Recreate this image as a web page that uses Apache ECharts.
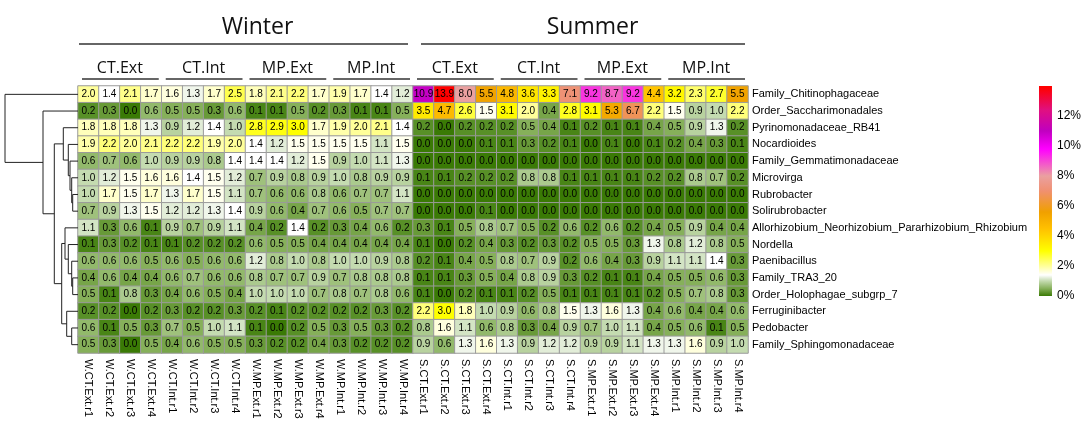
<!DOCTYPE html>
<html>
<head>
<meta charset="utf-8">
<script src="https://cdn.jsdelivr.net/npm/echarts@6/dist/echarts.min.js"></script>
<style>
  html, body { margin: 0; padding: 0; background: #fff; }
  #chart { width: 1084px; height: 427px; }
</style>
</head>
<body>
<div id="chart"></div>
<script>
// rows, top to bottom (dendrogram leaf order)
var taxa = ['Family_Chitinophagaceae', 'Order_Saccharimonadales', 'Pyrinomonadaceae_RB41', 'Nocardioides',
  'Family_Gemmatimonadaceae', 'Microvirga', 'Rubrobacter', 'Solirubrobacter',
  'Allorhizobium_Neorhizobium_Pararhizobium_Rhizobium', 'Nordella', 'Paenibacillus', 'Family_TRA3_20',
  'Order_Holophagae_subgrp_7', 'Ferruginibacter', 'Pedobacter', 'Family_Sphingomonadaceae'];

var samples = ['W.CT.Ext.r1', 'W.CT.Ext.r2', 'W.CT.Ext.r3', 'W.CT.Ext.r4',
  'W.CT.Int.r1', 'W.CT.Int.r2', 'W.CT.Int.r3', 'W.CT.Int.r4',
  'W.MP.Ext.r1', 'W.MP.Ext.r2', 'W.MP.Ext.r3', 'W.MP.Ext.r4',
  'W.MP.Int.r1', 'W.MP.Int.r2', 'W.MP.Int.r3', 'W.MP.Int.r4',
  'S.CT.Ext.r1', 'S.CT.Ext.r2', 'S.CT.Ext.r3', 'S.CT.Ext.r4',
  'S.CT.Int.r1', 'S.CT.Int.r2', 'S.CT.Int.r3', 'S.CT.Int.r4',
  'S.MP.Ext.r1', 'S.MP.Ext.r2', 'S.MP.Ext.r3', 'S.MP.Ext.r4',
  'S.MP.Int.r1', 'S.MP.Int.r2', 'S.MP.Int.r3', 'S.MP.Int.r4'];

var seasons = ['Winter', 'Summer'];
var groups = ['CT.Ext', 'CT.Int', 'MP.Ext', 'MP.Int', 'CT.Ext', 'CT.Int', 'MP.Ext', 'MP.Int'];

// relative abundance (%), one row per taxon, one value per sample
var abundance = [
  [2.0, 1.4, 2.1, 1.7, 1.6, 1.3, 1.7, 2.5, 1.8, 2.1, 2.2, 1.7, 1.9, 1.7, 1.4, 1.2, 10.9, 13.9, 8.0, 5.5, 4.8, 3.6, 3.3, 7.1, 9.2, 8.7, 9.2, 4.4, 3.2, 2.3, 2.7, 5.5],
  [0.2, 0.3, 0.0, 0.6, 0.5, 0.5, 0.3, 0.6, 0.1, 0.1, 0.5, 0.2, 0.3, 0.1, 0.1, 0.5, 3.5, 4.7, 2.6, 1.5, 3.1, 2.0, 0.4, 2.8, 3.1, 5.3, 6.7, 2.2, 1.5, 0.9, 1.0, 2.2],
  [1.8, 1.8, 1.8, 1.3, 0.9, 1.2, 1.4, 1.0, 2.8, 2.9, 3.0, 1.7, 1.9, 2.0, 2.1, 1.4, 0.2, 0.0, 0.2, 0.2, 0.2, 0.5, 0.4, 0.1, 0.2, 0.1, 0.1, 0.4, 0.5, 0.9, 1.3, 0.2],
  [1.9, 2.2, 2.0, 2.1, 2.2, 2.2, 1.9, 2.0, 1.4, 1.2, 1.5, 1.5, 1.5, 1.5, 1.1, 1.5, 0.0, 0.0, 0.0, 0.1, 0.1, 0.3, 0.2, 0.1, 0.0, 0.1, 0.0, 0.1, 0.2, 0.4, 0.3, 0.1],
  [0.6, 0.7, 0.6, 1.0, 0.9, 0.9, 0.8, 1.4, 1.4, 1.4, 1.2, 1.5, 0.9, 1.0, 1.1, 1.3, 0.0, 0.0, 0.0, 0.0, 0.0, 0.0, 0.0, 0.0, 0.0, 0.0, 0.0, 0.0, 0.0, 0.0, 0.0, 0.0],
  [1.0, 1.2, 1.5, 1.6, 1.6, 1.4, 1.5, 1.2, 0.7, 0.9, 0.8, 0.9, 1.0, 0.8, 0.9, 0.9, 0.1, 0.1, 0.2, 0.2, 0.2, 0.8, 0.8, 0.1, 0.1, 0.1, 0.1, 0.2, 0.2, 0.8, 0.7, 0.2],
  [1.0, 1.7, 1.5, 1.7, 1.3, 1.7, 1.5, 1.1, 0.7, 0.6, 0.6, 0.8, 0.6, 0.7, 0.7, 1.1, 0.0, 0.0, 0.0, 0.0, 0.0, 0.0, 0.0, 0.0, 0.0, 0.0, 0.0, 0.0, 0.0, 0.0, 0.0, 0.0],
  [0.7, 0.9, 1.3, 1.5, 1.2, 1.2, 1.3, 1.4, 0.9, 0.6, 0.4, 0.7, 0.6, 0.5, 0.7, 0.7, 0.0, 0.0, 0.0, 0.1, 0.0, 0.0, 0.0, 0.0, 0.0, 0.0, 0.0, 0.0, 0.0, 0.0, 0.0, 0.0],
  [1.1, 0.3, 0.6, 0.1, 0.9, 0.7, 0.9, 1.1, 0.4, 0.2, 1.4, 0.2, 0.3, 0.4, 0.6, 0.2, 0.3, 0.1, 0.5, 0.8, 0.7, 0.5, 0.2, 0.6, 0.2, 0.6, 0.2, 0.4, 0.5, 0.9, 0.4, 0.4],
  [0.1, 0.3, 0.2, 0.1, 0.1, 0.2, 0.2, 0.2, 0.6, 0.5, 0.5, 0.4, 0.4, 0.4, 0.4, 0.4, 0.1, 0.0, 0.2, 0.4, 0.3, 0.2, 0.3, 0.2, 0.5, 0.5, 0.3, 1.3, 0.8, 1.2, 0.8, 0.5],
  [0.6, 0.6, 0.6, 0.5, 0.6, 0.5, 0.6, 0.6, 1.2, 0.8, 1.0, 0.8, 1.0, 1.0, 0.9, 0.8, 0.2, 0.1, 0.4, 0.5, 0.8, 0.7, 0.9, 0.2, 0.6, 0.4, 0.3, 0.9, 1.1, 1.1, 1.4, 0.3],
  [0.4, 0.6, 0.4, 0.4, 0.6, 0.7, 0.6, 0.6, 0.8, 0.7, 0.7, 0.9, 0.7, 0.8, 0.8, 0.8, 0.1, 0.1, 0.3, 0.5, 0.4, 0.8, 0.9, 0.3, 0.2, 0.1, 0.1, 0.4, 0.5, 0.5, 0.6, 0.3],
  [0.5, 0.1, 0.8, 0.3, 0.4, 0.6, 0.5, 0.4, 1.0, 1.0, 1.0, 0.7, 0.8, 0.7, 0.8, 0.6, 0.1, 0.0, 0.2, 0.1, 0.1, 0.2, 0.5, 0.1, 0.1, 0.1, 0.1, 0.2, 0.5, 0.7, 0.8, 0.3],
  [0.2, 0.2, 0.0, 0.2, 0.3, 0.2, 0.2, 0.3, 0.2, 0.1, 0.2, 0.2, 0.2, 0.2, 0.3, 0.2, 2.2, 3.0, 1.8, 1.0, 0.9, 0.6, 0.8, 1.5, 1.3, 1.6, 1.3, 0.4, 0.6, 0.4, 0.4, 0.6],
  [0.6, 0.1, 0.5, 0.3, 0.7, 0.5, 1.0, 1.1, 0.1, 0.0, 0.2, 0.5, 0.3, 0.5, 0.3, 0.2, 0.8, 1.6, 1.1, 0.6, 0.8, 0.3, 0.4, 0.9, 0.7, 1.0, 1.1, 0.4, 0.5, 0.6, 0.1, 0.5],
  [0.5, 0.3, 0.0, 0.5, 0.4, 0.6, 0.5, 0.5, 0.3, 0.2, 0.2, 0.4, 0.3, 0.2, 0.2, 0.2, 0.9, 0.6, 1.3, 1.6, 1.3, 0.9, 1.2, 1.2, 0.9, 0.9, 1.1, 1.3, 1.3, 1.6, 0.9, 1.0]
];

// row dendrogram: [child a, child b, merge height]; leaves are 0..15, new nodes from 16 on
var dendroMerges = [
  [6, 7, 5.3], [5, 16, 6.3], [4, 17, 8], [3, 18, 9.7], [2, 19, 14.7],
  [11, 12, 5.3], [10, 21, 6.3], [9, 22, 9.7], [8, 23, 13],
  [14, 15, 6.3], [13, 25, 11.3], [24, 26, 16.3],
  [20, 27, 23.7], [1, 28, 35], [0, 29, 73]
];

var colorTicks = [0, 2, 4, 6, 8, 10, 12];
var colorMax = 13.9;

// colour ramp of the legend
var ramp = [
  [0, '#3a7a05'], [0.5, '#86b05a'], [1.0, '#c4dbb0'], [1.4, '#ffffff'], [2.0, '#ffff99'],
  [3.0, '#ffff00'], [4.5, '#ffc000'], [5.6, '#f0a000'], [7.0, '#f09070'], [8.0, '#eaa0a0'],
  [9.8, '#ff00ff'], [11.0, '#c000c0'], [12.4, '#e01080'], [13.9, '#ff0000']
];

function hex(c) { return [1, 3, 5].map(function (i) { return parseInt(c.substr(i, 2), 16); }); }
function rampColor(v) {
  for (var i = 1; i < ramp.length; i++) {
    if (v <= ramp[i][0]) {
      var a = ramp[i - 1], b = ramp[i], t = (v - a[0]) / (b[0] - a[0]);
      var ca = hex(a[1]), cb = hex(b[1]);
      return 'rgb(' + ca.map(function (x, k) { return Math.round(x + (cb[k] - x) * t); }).join(',') + ')';
    }
  }
  return ramp[ramp.length - 1][1];
}
var rampSamples = [];
for (var s = 0; s <= 139; s++) rampSamples.push(rampColor(s * colorMax / 139));

var cells = [];
abundance.forEach(function (row, r) {
  row.forEach(function (v, c) { cells.push([c, r, v]); });
});

// dendrogram segments
var nodes = taxa.map(function (t, i) { return { y: i, h: 0 }; });
var links = [];
dendroMerges.forEach(function (m) {
  var a = nodes[m[0]], b = nodes[m[1]], h = m[2];
  links.push({ coords: [[a.h, a.y], [h, a.y], [h, b.y], [b.h, b.y]] });
  nodes.push({ y: (a.y + b.y) / 2, h: h });
});

// heatmap frame
var L = 78, W = 670, T = 86, H = 267, cw = W / samples.length;

var graphics = [];
seasons.forEach(function (name, k) {
  var s = L + k * 16 * cw, e = s + 16 * cw;
  graphics.push({ type: 'text', x: (s + e) / 2 + 12, y: 27, style: { text: name, font: '23px "Open Sans"', fill: '#111', align: 'center', verticalAlign: 'middle' } });
  graphics.push({ type: 'line', shape: { x1: s + (k ? 8 : 1), y1: 44, x2: e - (k ? 3 : 5), y2: 44 }, style: { stroke: '#333', lineWidth: 1.6 } });
});
groups.forEach(function (name, g) {
  var s = L + g * 4 * cw, e = s + 4 * cw;
  graphics.push({ type: 'text', x: (s + e) / 2, y: 68, style: { text: name, font: '16px "Open Sans"', fill: '#111', align: 'center', verticalAlign: 'middle' } });
  graphics.push({ type: 'line', shape: { x1: s + 4, y1: 79, x2: e - 3, y2: 79 }, style: { stroke: '#333', lineWidth: 1.6 } });
});

var chart = echarts.init(document.getElementById('chart'));
chart.setOption({
  backgroundColor: '#fff',
  animation: false,
  textStyle: { fontFamily: '"Liberation Sans", Arial, sans-serif' },
  grid: [
    { left: L, top: T, width: W, height: H },
    { left: 0, top: T, width: L, height: H },
    { left: 1039, top: 86, width: 13, height: 210 }
  ],
  xAxis: [
    {
      type: 'category', gridIndex: 0, data: samples, position: 'bottom',
      axisLine: { show: false }, axisTick: { show: false }, splitLine: { show: false },
      axisLabel: { rotate: -90, interval: 0, margin: 6, fontSize: 11, color: '#000' }
    },
    { type: 'value', gridIndex: 1, min: 0, max: L, inverse: true, show: false },
    { type: 'category', gridIndex: 2, data: [''], show: false }
  ],
  yAxis: [
    {
      type: 'category', gridIndex: 0, data: taxa, inverse: true, position: 'right',
      axisLine: { show: false }, axisTick: { show: false }, splitLine: { show: false },
      axisLabel: { margin: 4, fontSize: 11, color: '#000' }
    },
    { type: 'value', gridIndex: 1, min: -0.5, max: 15.5, inverse: true, show: false },
    {
      type: 'value', gridIndex: 2, min: 0, max: 14, interval: 2, position: 'right',
      axisLine: { show: false }, axisTick: { show: false }, splitLine: { show: false },
      axisLabel: { margin: 5, fontSize: 12, color: '#000', showMaxLabel: false, formatter: '{value}%' }
    }
  ],
  visualMap: {
    type: 'continuous', show: false, seriesIndex: 0, dimension: 2,
    min: 0, max: colorMax, inRange: { color: rampSamples }
  },
  series: [
    {
      type: 'heatmap', xAxisIndex: 0, yAxisIndex: 0, data: cells,
      itemStyle: { borderColor: '#9a9a9a', borderWidth: 1 },
      label: {
        show: true, fontSize: 10, color: '#000',
        formatter: function (p) { return p.value[2].toFixed(1); }
      }
    },
    {
      type: 'lines', coordinateSystem: 'cartesian2d', xAxisIndex: 1, yAxisIndex: 1,
      polyline: true, silent: true, data: links,
      lineStyle: { color: '#222', width: 1, opacity: 1 }
    },
    {
      type: 'bar', xAxisIndex: 2, yAxisIndex: 2, barWidth: '100%', silent: true,
      data: [14],
      itemStyle: {
        color: new echarts.graphic.LinearGradient(0, 1, 0, 0, ramp.map(function (r) {
          return { offset: r[0] / 14, color: r[1] };
        }))
      }
    }
  ],
  graphic: graphics
});
</script>
</body>
</html>
